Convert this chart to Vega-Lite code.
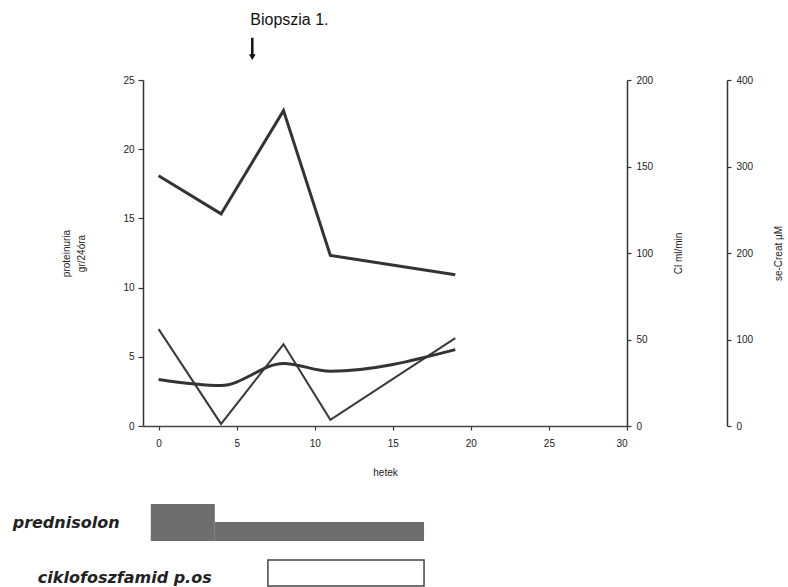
{
  "$schema": "https://vega.github.io/schema/vega-lite/v6.json",
  "background": "white",
  "padding": {"left": 12, "top": 12, "right": 2, "bottom": 2},
  "config": {
    "view": {"stroke": null},
    "font": "Liberation Sans",
    "axis": {"labelFont": "Liberation Sans", "titleFont": "Liberation Sans", "labelFontSize": 10, "titleFontSize": 10, "titleFontWeight": "normal", "labelColor": "#222", "titleColor": "#222", "domainColor": "#333", "tickColor": "#333", "grid": false, "domainWidth": 1.5, "tickWidth": 1.2}
  },
  "datasets": {
    "series": [
      {"week": 0, "proteinuria": 7.0, "cl": 144.6, "creat": 53.8},
      {"week": 4, "proteinuria": 0.15, "cl": 122.6, "creat": 46.8},
      {"week": 8, "proteinuria": 5.9, "cl": 182.3, "creat": 72.2},
      {"week": 11, "proteinuria": 0.45, "cl": 98.6, "creat": 63.3},
      {"week": 19, "proteinuria": 6.35, "cl": 87.4, "creat": 88.3}
    ],
    "biopsy": [{"week": 6, "label": "Biopszia 1."}],
    "prednisolon": [
      {"drug": "prednisolon", "start": -0.5, "end": 3.6, "dose": 60},
      {"drug": "prednisolon", "start": 3.6, "end": 17, "dose": 31}
    ],
    "cyclo": [{"drug": "ciklofoszfamid p.os", "start": 7, "end": 17}]
  },
  "vconcat": [
    {
      "width": 484,
      "height": 346,
      "layer": [
        {
          "layer": [
            {
              "data": {"name": "series"},
              "mark": {"type": "line", "color": "#3a3a3a", "strokeWidth": 2},
              "encoding": {
                "x": {"field": "week", "type": "quantitative", "scale": {"domain": [-1, 30], "nice": false}, "axis": {"values": [0, 5, 10, 15, 20, 25, 30], "title": "hetek", "tickSize": 4, "labelPadding": 8, "titlePadding": 19, "domainColor": "#444"}},
                "y": {"field": "proteinuria", "type": "quantitative", "scale": {"domain": [0, 25], "nice": false}, "axis": {"orient": "left", "values": [0, 5, 10, 15, 20, 25], "title": ["proteinuria", "gr/24óra"], "titleLineHeight": 15, "tickSize": 5, "labelPadding": 4, "titlePadding": 36}}
              }
            },
            {
              "data": {"name": "biopsy"},
              "mark": {"type": "text", "align": "left", "baseline": "middle", "fontSize": 16, "color": "#111"},
              "encoding": {
                "x": {"field": "week", "type": "quantitative"},
                "xOffset": {"value": -2},
                "y": {"datum": 29.33},
                "text": {"field": "label"}
              }
            },
            {
              "data": {"name": "biopsy"},
              "mark": {"type": "rule", "color": "#111", "strokeWidth": 2.5},
              "encoding": {
                "x": {"field": "week", "type": "quantitative"},
                "y": {"datum": 28.05},
                "y2": {"datum": 26.8}
              }
            },
            {
              "data": {"name": "biopsy"},
              "mark": {"type": "point", "shape": "triangle-down", "filled": true, "color": "#111", "opacity": 1, "size": 45},
              "encoding": {
                "x": {"field": "week", "type": "quantitative"},
                "y": {"datum": 26.65}
              }
            }
          ]
        },
        {
          "data": {"name": "series"},
          "mark": {"type": "line", "color": "#333", "strokeWidth": 3},
          "encoding": {
            "x": {"field": "week", "type": "quantitative"},
            "y": {"field": "cl", "type": "quantitative", "scale": {"domain": [0, 200], "nice": false}, "axis": {"orient": "right", "values": [0, 50, 100, 150, 200], "title": "Cl   ml/min", "titleAngle": 270, "tickSize": 4, "labelPadding": 5, "titlePadding": 31}}
          }
        },
        {
          "data": {"name": "series"},
          "mark": {"type": "line", "color": "#333", "strokeWidth": 3, "interpolate": "monotone"},
          "encoding": {
            "x": {"field": "week", "type": "quantitative"},
            "y": {"field": "creat", "type": "quantitative", "scale": {"domain": [0, 400], "nice": false}, "axis": {"orient": "right", "offset": 100, "values": [0, 100, 200, 300, 400], "title": "se-Creat µM", "titleAngle": 270, "tickSize": 4, "labelPadding": 5, "titlePadding": 31}}
          }
        }
      ],
      "resolve": {"scale": {"y": "independent"}, "axis": {"y": "independent"}}
    },
    {
      "spacing": 18,
      "vconcat": [
        {
          "width": 484,
          "height": 37,
          "layer": [
            {
              "data": {"name": "prednisolon"},
              "mark": {"type": "rect", "color": "#6e6e6e"},
              "encoding": {
                "x": {"field": "start", "type": "quantitative", "scale": {"domain": [-1, 30], "nice": false}, "axis": null},
                "x2": {"field": "end"},
                "y": {"field": "dose", "type": "quantitative", "scale": {"domain": [0, 60], "nice": false}, "axis": null},
                "y2": {"datum": 0}
              }
            },
            {
              "data": {"values": [{"drug": "prednisolon"}]},
              "mark": {"type": "text", "align": "right", "baseline": "middle", "font": "DejaVu Sans", "fontSize": 16, "fontWeight": "bold", "fontStyle": "italic", "color": "#222"},
              "encoding": {
                "x": {"datum": -2.5},
                "y": {"datum": 30},
                "text": {"field": "drug"}
              }
            }
          ]
        },
        {
          "width": 484,
          "height": 26,
          "layer": [
            {
              "data": {"name": "cyclo"},
              "mark": {"type": "rect", "fill": "white", "stroke": "#444", "strokeWidth": 1.5},
              "encoding": {
                "x": {"field": "start", "type": "quantitative", "scale": {"domain": [-1, 30], "nice": false}, "axis": null},
                "x2": {"field": "end"},
                "y": {"datum": 0, "type": "quantitative", "scale": {"domain": [0, 1], "nice": false}, "axis": null},
                "y2": {"datum": 1}
              }
            },
            {
              "data": {"name": "cyclo"},
              "mark": {"type": "text", "align": "right", "baseline": "middle", "font": "DejaVu Sans", "fontSize": 16, "fontWeight": "bold", "fontStyle": "italic", "color": "#222"},
              "encoding": {
                "x": {"datum": 3.4},
                "y": {"datum": 0.3},
                "text": {"field": "drug"}
              }
            }
          ]
        }
      ]
    }
  ],
  "spacing": 27
}
